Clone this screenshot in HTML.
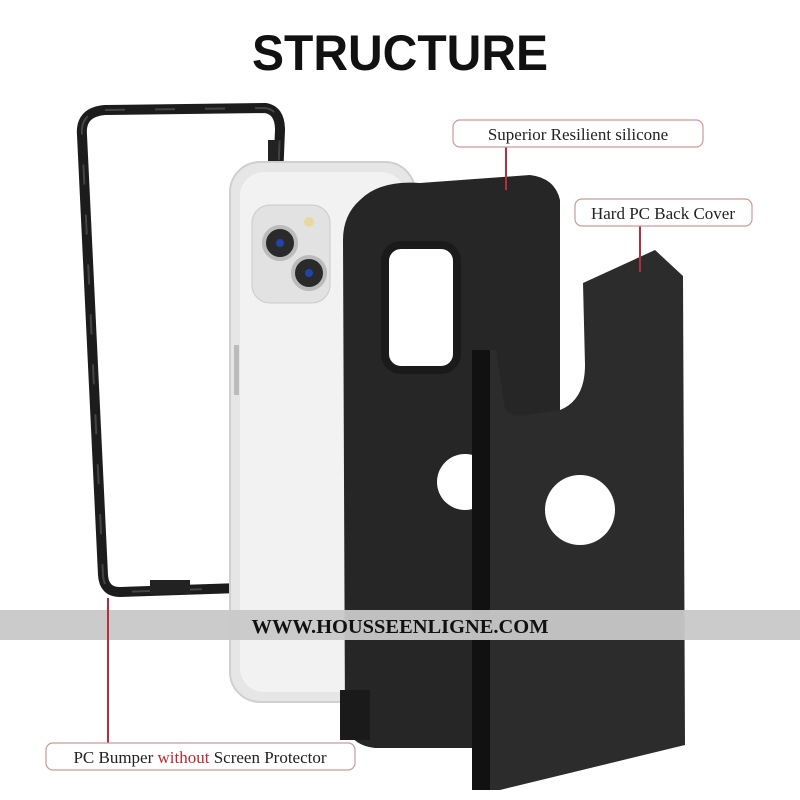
<!DOCTYPE html>
<html><head><meta charset="utf-8"><style>
html,body{margin:0;padding:0;background:#fff;width:800px;height:800px;overflow:hidden}
svg{display:block}
</style></head><body>
<svg width="800" height="800" viewBox="0 0 800 800" xmlns="http://www.w3.org/2000/svg">
<rect width="800" height="800" fill="#fff"/>
<text x="400" y="70" text-anchor="middle" font-family="Liberation Sans, sans-serif" font-weight="bold" font-size="50" fill="#111" textLength="296" lengthAdjust="spacingAndGlyphs">STRUCTURE</text>

<!-- bumper frame -->
<path d="M105,110 L265,108 Q280,110 280,130 L262,570 Q258,590 240,588 L120,592 Q104,592 103,575 L82,135 Q80,112 105,110 Z" fill="none" stroke="#1c1c1c" stroke-width="10"/>
<path d="M105,110 L265,108 Q280,110 280,130 L262,570 Q258,590 240,588 L120,592 Q104,592 103,575 L82,135 Q80,112 105,110 Z" fill="none" stroke="#444" stroke-width="2" stroke-dasharray="20 30"/>
<rect x="268" y="140" width="10" height="40" fill="#222"/>
<rect x="150" y="580" width="40" height="14" fill="#222"/>

<!-- phone -->
<rect x="230" y="162" width="185" height="540" rx="30" fill="#e6e6e6" stroke="#cfcfcf" stroke-width="2"/>
<rect x="240" y="172" width="165" height="520" rx="24" fill="#f2f2f2"/>
<rect x="252" y="205" width="78" height="98" rx="18" fill="#e2e2e2" stroke="#cacaca"/>
<circle cx="280" cy="243" r="16" fill="#2a2a2a" stroke="#bbb" stroke-width="4"/>
<circle cx="280" cy="243" r="4" fill="#2244aa"/>
<circle cx="309" cy="273" r="16" fill="#2a2a2a" stroke="#bbb" stroke-width="4"/>
<circle cx="309" cy="273" r="4" fill="#2244aa"/>
<circle cx="309" cy="222" r="5" fill="#e8d8a0"/>
<rect x="234" y="345" width="5" height="50" fill="#bbb"/>

<!-- silicone case -->
<path d="M360,200 Q380,180 420,183 L530,175 Q555,178 560,200 L560,720 Q558,745 535,748 L375,748 Q348,745 345,720 L343,240 Q343,215 360,200 Z" fill="#262626"/>
<rect x="385" y="245" width="72" height="125" rx="16" fill="#fff" stroke="#1a1a1a" stroke-width="8"/>
<circle cx="465" cy="482" r="28" fill="#fff"/>
<rect x="340" y="690" width="30" height="50" fill="#1a1a1a"/>

<!-- back cover -->
<path d="M472,350 L496,350 L505,408 Q510,418 525,415 L560,410 Q585,400 585,365 L583,283 L655,250 L683,276 L685,745 L500,790 L472,790 Z" fill="#2c2c2c"/>
<rect x="472" y="350" width="18" height="440" fill="#111"/>
<circle cx="580" cy="510" r="35" fill="#fff"/>

<!-- watermark band -->
<rect x="0" y="610" width="800" height="30" fill="#c8c8c8" opacity="0.95"/>
<text x="400" y="633" text-anchor="middle" font-family="Liberation Serif, serif" font-weight="bold" font-size="20" fill="#111" textLength="297" lengthAdjust="spacingAndGlyphs">WWW.HOUSSEENLIGNE.COM</text>

<!-- labels -->
<line x1="506" y1="147" x2="506" y2="190" stroke="#b03040" stroke-width="2"/>
<rect x="453" y="120" width="250" height="27" rx="7" fill="#fff" stroke="#c99" stroke-width="1.2"/>
<text x="578" y="140" text-anchor="middle" font-family="Liberation Serif, serif" font-size="17" fill="#222">Superior Resilient silicone</text>

<line x1="640" y1="226" x2="640" y2="272" stroke="#b03040" stroke-width="2"/>
<rect x="575" y="199" width="177" height="27" rx="7" fill="#fff" stroke="#c99" stroke-width="1.2"/>
<text x="663" y="219" text-anchor="middle" font-family="Liberation Serif, serif" font-size="17" fill="#222">Hard PC Back Cover</text>

<line x1="108" y1="598" x2="108" y2="743" stroke="#b03040" stroke-width="2"/>
<rect x="46" y="743" width="309" height="27" rx="7" fill="#fff" stroke="#c99" stroke-width="1.2"/>
<text x="200" y="763" text-anchor="middle" font-family="Liberation Serif, serif" font-size="17" fill="#222">PC Bumper <tspan fill="#c0282e">without</tspan> Screen Protector</text>
</svg>
</body></html>
